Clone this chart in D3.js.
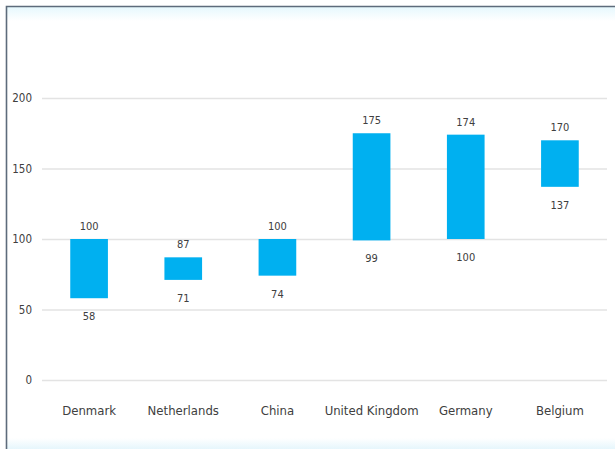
<!DOCTYPE html>
<html>
<head>
<meta charset="utf-8">
<script src="https://cdn.jsdelivr.net/npm/d3@7"></script>
<style>
  html, body { margin: 0; padding: 0; background: #fff; }
  svg { display: block; }
  text { font-family: "Liberation Sans Narrow", "DejaVu Sans Condensed", "Roboto Condensed", sans-serif; fill: #404040; }
</style>
</head>
<body>
<script>
// Range of each country: low and high values
const countries = ["Denmark", "Netherlands", "China", "United Kingdom", "Germany", "Belgium"];
const lowValues = [58, 71, 74, 99, 100, 137];
const highValues = [100, 87, 100, 175, 174, 170];
const yTicks = [0, 50, 100, 150, 200];

const width = 615, height = 449;
const margin = { top: 98, right: 8, bottom: 69, left: 42 };

const svg = d3.select("body").append("svg")
  .attr("width", width)
  .attr("height", height);

// Background tint bands and frame
const defs = svg.append("defs");
const topGrad = defs.append("linearGradient").attr("id", "topTint").attr("x1", 0).attr("y1", 0).attr("x2", 0).attr("y2", 1);
topGrad.append("stop").attr("offset", 0).attr("stop-color", "#e6f8fd");
topGrad.append("stop").attr("offset", 1).attr("stop-color", "#ffffff");
svg.append("rect").attr("x", 7).attr("y", 7).attr("width", width - 7).attr("height", 14).attr("fill", "url(#topTint)");
const botGrad = defs.append("linearGradient").attr("id", "botTint").attr("x1", 0).attr("y1", 0).attr("x2", 0).attr("y2", 1);
botGrad.append("stop").attr("offset", 0).attr("stop-color", "#ffffff");
botGrad.append("stop").attr("offset", 1).attr("stop-color", "#e6f6fc");
svg.append("rect").attr("x", 7).attr("y", 438).attr("width", width - 7).attr("height", 11).attr("fill", "url(#botTint)");

svg.append("path")
  .attr("d", `M6.5,${height} V6.5 H${width}`)
  .attr("fill", "none")
  .attr("stroke", "#5d6b7b")
  .attr("stroke-width", 1.6);

const x = d3.scaleBand()
  .domain(countries)
  .range([margin.left, width - margin.right])
  .paddingInner(0.6)
  .paddingOuter(0.3);

const y = d3.scaleLinear()
  .domain([0, 200])
  .range([height - margin.bottom, margin.top]);

// Gridlines and value axis labels
const yAxis = svg.append("g")
  .attr("transform", `translate(${margin.left},0)`)
  .call(d3.axisLeft(y).tickValues(yTicks).tickSize(-(width - margin.right - margin.left)).tickPadding(10));
yAxis.select(".domain").remove();
yAxis.selectAll(".tick line").attr("stroke", "#e3e3e3").attr("stroke-width", 1.4);
yAxis.selectAll(".tick text").attr("font-size", 11.5).style("fill", "#404040");

// Category axis labels
const xAxis = svg.append("g")
  .attr("transform", `translate(0,${y(0)})`)
  .call(d3.axisBottom(x).tickSize(0).tickPadding(26));
xAxis.select(".domain").remove();
xAxis.selectAll(".tick text").attr("font-size", 13).style("fill", "#404040");

// Floating bars from low to high
const data = countries.map((c, i) => ({ country: c, low: lowValues[i], high: highValues[i] }));

svg.append("g").selectAll("rect")
  .data(data)
  .join("rect")
  .attr("x", d => x(d.country))
  .attr("y", d => y(d.high))
  .attr("width", x.bandwidth())
  .attr("height", d => y(d.low) - y(d.high))
  .attr("fill", "#00b0f0");

// Value labels above and below each bar
const labels = svg.append("g").attr("text-anchor", "middle").attr("font-size", 11);
labels.selectAll(".hi")
  .data(data)
  .join("text")
  .attr("class", "hi")
  .attr("x", d => x(d.country) + x.bandwidth() / 2)
  .attr("y", d => y(d.high) - 9)
  .text(d => d.high);
labels.selectAll(".lo")
  .data(data)
  .join("text")
  .attr("class", "lo")
  .attr("x", d => x(d.country) + x.bandwidth() / 2)
  .attr("y", d => y(d.low) + 22)
  .text(d => d.low);
</script>
</body>
</html>
